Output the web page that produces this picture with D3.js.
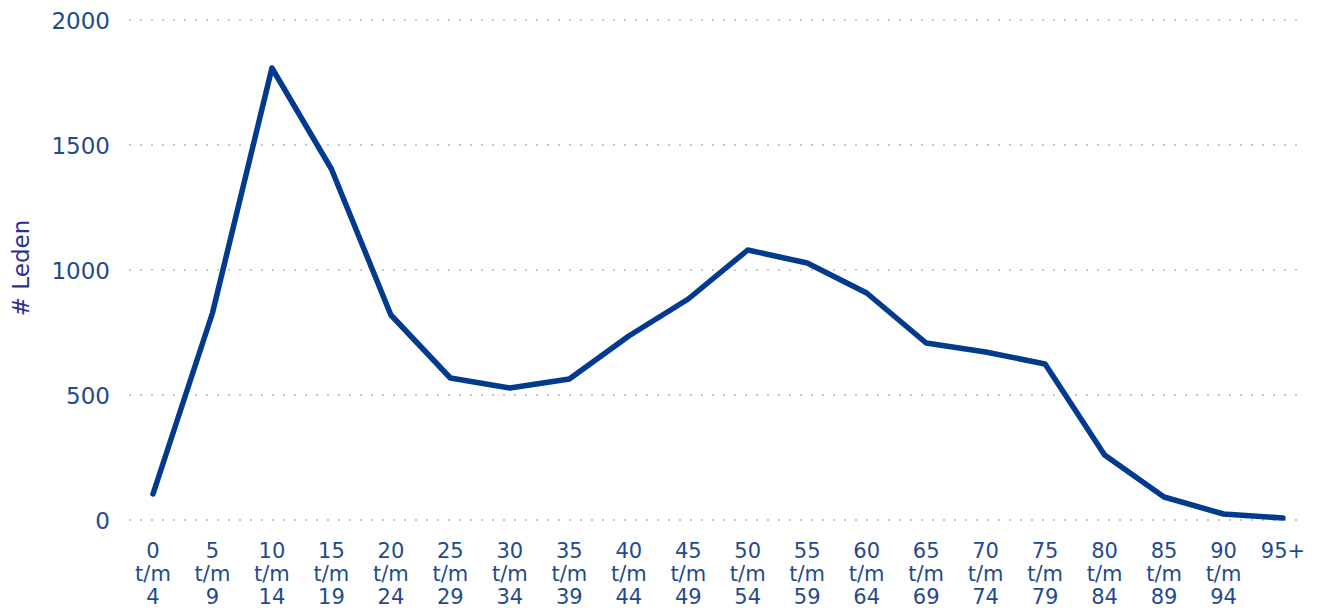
<!DOCTYPE html>
<html>
<head>
<meta charset="utf-8">
<script src="https://cdn.jsdelivr.net/npm/d3@7"></script>
<style>
  body { margin: 0; background: #fff; }
  svg text { font-family: "DejaVu Sans", Verdana, sans-serif; }
</style>
</head>
<body>
<svg id="chart"></svg>
<script>
var width = 1317;
var height = 610;

var ageGroups = ["0 t/m 4", "5 t/m 9", "10 t/m 14", "15 t/m 19", "20 t/m 24",
                 "25 t/m 29", "30 t/m 34", "35 t/m 39", "40 t/m 44", "45 t/m 49",
                 "50 t/m 54", "55 t/m 59", "60 t/m 64", "65 t/m 69", "70 t/m 74",
                 "75 t/m 79", "80 t/m 84", "85 t/m 89", "90 t/m 94", "95+"];
var members = [104, 828, 1808, 1404, 820, 568, 528, 564, 736, 884,
               1080, 1028, 908, 708, 672, 624, 260, 92, 24, 8];
var yTicks = [0, 500, 1000, 1500, 2000];

var textColor = "#1f4b8e";
var lineColor = "#023a8e";

var xScale = d3.scalePoint()
               .domain(ageGroups)
               .range([153, 1283]);

var yScale = d3.scaleLinear()
               .domain([0, 2000])
               .range([520, 20]);

var svg = d3.select("#chart")
            .attr("width", width)
            .attr("height", height);

// dotted gridlines
svg.append("g")
   .selectAll("line")
   .data(yTicks)
   .enter()
   .append("line")
     .attr("x1", 129)
     .attr("x2", 1302)
     .attr("y1", d => yScale(d))
     .attr("y2", d => yScale(d))
     .attr("stroke", "#c8c8c8")
     .attr("stroke-width", 2)
     .attr("stroke-dasharray", "2,9");

var yAxis = d3.axisLeft(yScale)
              .tickValues(yTicks)
              .tickFormat(d3.format("d"))
              .tickSize(0)
              .tickPadding(0);

var gy = svg.append("g")
   .attr("transform", "translate(110,0)")
   .call(yAxis);
gy.select(".domain").remove();
gy.selectAll("text")
  .attr("fill", textColor)
  .style("font-size", "23px")
  .attr("dy", "0.35em");

// x labels on three lines
var gx = svg.append("g");
gx.selectAll("text")
  .data(ageGroups)
  .enter()
  .append("text")
    .attr("x", d => xScale(d))
    .attr("y", 558)
    .attr("text-anchor", "middle")
    .attr("fill", textColor)
    .style("font-size", "21px")
    .each(function (d) {
        var parts = d.indexOf(" t/m ") > -1 ? [d.split(" t/m ")[0], "t/m", d.split(" t/m ")[1]] : [d];
        var t = d3.select(this);
        parts.forEach(function (p, i) {
            t.append("tspan")
             .attr("x", xScale(d))
             .attr("dy", i == 0 ? 0 : 23)
             .text(p);
        });
    });

svg.append("text")
   .attr("transform", "translate(29,268) rotate(-90)")
   .attr("text-anchor", "middle")
   .attr("fill", "#2b3190")
   .style("font-size", "23px")
   .text("# Leden");

var line = d3.line()
             .x((d, i) => xScale(ageGroups[i]))
             .y(d => yScale(d));

svg.append("path")
   .datum(members)
   .attr("d", line)
   .attr("fill", "none")
   .attr("stroke", lineColor)
   .attr("stroke-width", 5.5)
   .attr("stroke-linejoin", "round")
   .attr("stroke-linecap", "round");
</script>
</body>
</html>
